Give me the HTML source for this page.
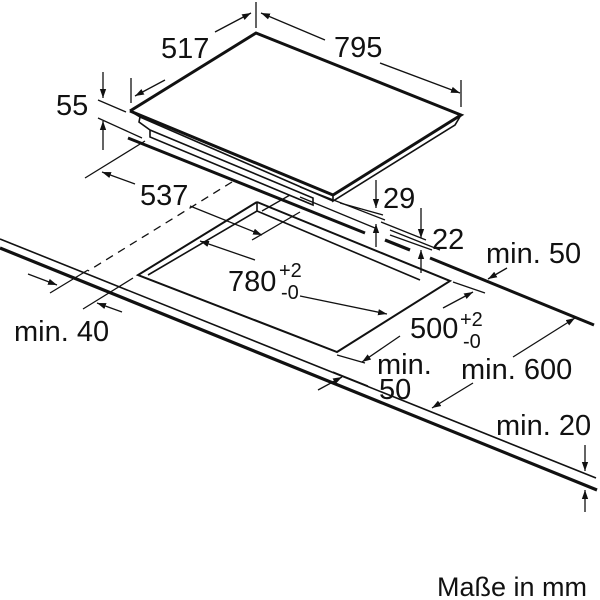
<!DOCTYPE html>
<html><head><meta charset="utf-8"><style>
html,body{margin:0;padding:0;background:#fff}
svg{display:block}
text{font-family:"Liberation Sans",Arial,sans-serif;fill:#111}
</style></head><body>
<svg width="600" height="600" viewBox="0 0 600 600" xmlns="http://www.w3.org/2000/svg">
<defs>
<marker id="a" viewBox="0 0 10 10" refX="10" refY="5" markerWidth="9" markerHeight="9" markerUnits="userSpaceOnUse" orient="auto"><path d="M0,1.5 L10,5 L0,8.5 Z" fill="#111"/></marker>
</defs>
<g stroke="#111" fill="none" stroke-linecap="butt">
<path d="M130,111 L256,33 L461,115 L333,195" stroke-width="3"/>
<path d="M130,111 L333,195" stroke-width="3"/>
<path d="M461,115 L455,125 L333,201 L333,195" stroke-width="1.6"/>
<path d="M130,111 L140,117 L139,122 L150,130 L150,137 L313,205 L313,198 L150,130" stroke-width="1.6"/>
<path d="M140,117 L333,201" stroke-width="1.6"/>
<path d="M128,138 L365,233" stroke-width="3"/>
<path d="M385,240 L410,250" stroke-width="3.2"/>
<path d="M430,258 L594,325" stroke-width="3"/>
<path d="M300,187 L385,220 M300,197 L375,228 M390,230 L440,250" stroke-width="1.3"/>
<path d="M0,239 L596,478" stroke-width="1.6"/>
<path d="M0,248 L597,490" stroke-width="3.2"/>
<path d="M232,182 L88,271" stroke-width="1.3" stroke-dasharray="8,6"/>
<path d="M257,202 L138,275 L337,352 L450,281 L257,202" stroke-width="2"/>
<path d="M257,202 L257,211 L148,275 M257,211 L420,280" stroke-width="1.6"/>
<path d="M262,211 L290,195" stroke-width="1.3"/>
<path d="M131,78 V103 M256,2 V28" stroke-width="1.3"/>
<path d="M165,80 L135,96" stroke-width="1.3" marker-end="url(#a)"/>
<path d="M215,32 L251,13" stroke-width="1.3" marker-end="url(#a)"/>
<path d="M461,80 V107" stroke-width="1.3"/>
<path d="M325,40 L261,13" stroke-width="1.3" marker-end="url(#a)"/>
<path d="M380,63 L460,93" stroke-width="1.3" marker-end="url(#a)"/>
<path d="M98,100 L126,112 M98,118 L142,138" stroke-width="1.3"/>
<path d="M103,72 V98" stroke-width="1.3" marker-end="url(#a)"/>
<path d="M103,150 V121" stroke-width="1.3" marker-end="url(#a)"/>
<path d="M85,178 L145,141" stroke-width="1.3"/>
<path d="M135,184 L102,172" stroke-width="1.3" marker-end="url(#a)"/>
<path d="M190,206 L262,235" stroke-width="1.3" marker-end="url(#a)"/>
<path d="M252,240 L300,212" stroke-width="1.3"/>
<path d="M255,260 L200,241" stroke-width="1.3" marker-end="url(#a)"/>
<path d="M300,296 L387,314" stroke-width="1.3" marker-end="url(#a)"/>
<path d="M453,282 L485,293 M337,355 L365,363" stroke-width="1.3"/>
<path d="M443,308 L473,292" stroke-width="1.3" marker-end="url(#a)"/>
<path d="M400,336 L362,362" stroke-width="1.3" marker-end="url(#a)"/>
<path d="M333,372 L368,386" stroke-width="1.3"/>
<path d="M318,390 L342,377" stroke-width="1.3" marker-end="url(#a)"/>
<path d="M50,293 L88,270 M83,309 L133,278" stroke-width="1.3"/>
<path d="M28,274 L57,285" stroke-width="1.3" marker-end="url(#a)"/>
<path d="M122,312 L97,303" stroke-width="1.3" marker-end="url(#a)"/>
<path d="M340,203 L383,215" stroke-width="1.3"/>
<path d="M376,180 V208" stroke-width="1.3" marker-end="url(#a)"/>
<path d="M376,247 V224" stroke-width="1.3" marker-end="url(#a)"/>
<path d="M381,222 L426,240 M390,235 L432,250" stroke-width="1.3"/>
<path d="M421,208 V238" stroke-width="1.3" marker-end="url(#a)"/>
<path d="M421,273 V250" stroke-width="1.3" marker-end="url(#a)"/>
<path d="M507,268 L488,279" stroke-width="1.3" marker-end="url(#a)"/>
<path d="M513,357 L575,318" stroke-width="1.3" marker-end="url(#a)"/>
<path d="M473,383 L432,408" stroke-width="1.3" marker-end="url(#a)"/>
<path d="M585,445 V471" stroke-width="1.3" marker-end="url(#a)"/>
<path d="M585,512 V490" stroke-width="1.3" marker-end="url(#a)"/>
</g>
<g font-size="29">
<text x="161" y="58">517</text>
<text x="334" y="57">795</text>
<text x="56" y="115">55</text>
<text x="140" y="205">537</text>
<text x="383" y="208">29</text>
<text x="432" y="249">22</text>
<text x="486" y="263">min. 50</text>
<text x="228" y="291">780</text>
<text x="279" y="277" font-size="20">+2</text>
<text x="281" y="299" font-size="20">-0</text>
<text x="410" y="338">500</text>
<text x="460" y="326" font-size="20">+2</text>
<text x="463" y="348" font-size="20">-0</text>
<text x="14" y="341">min. 40</text>
<text x="377" y="374">min.</text>
<text x="379" y="399">50</text>
<text x="461" y="379">min. 600</text>
<text x="496" y="435">min. 20</text>
</g>
<text x="437" y="596" font-size="27">Maße in mm</text>
</svg>
</body></html>
